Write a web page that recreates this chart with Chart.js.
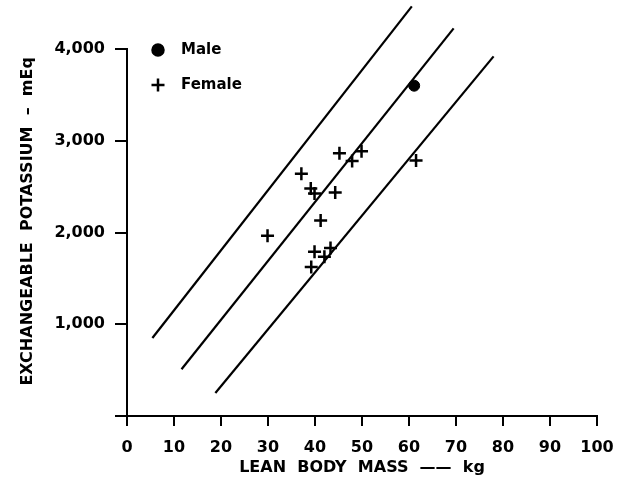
<!DOCTYPE html>
<html>
<head>
<meta charset="utf-8">
<script src="https://cdn.jsdelivr.net/npm/chart.js@4.4.1/dist/chart.umd.min.js"></script>
<style>
  html, body { margin: 0; padding: 0; background: #fff; }
  #wrap { width: 633px; height: 482px; }
</style>
</head>
<body>
<div id="wrap"><canvas id="chart" width="633" height="482"></canvas></div>
<script>
// Lean body mass (kg) vs exchangeable potassium (mEq)
const maleMass = [61.1];
const maleK = [3600];

const femaleMass = [45.2, 49.9, 47.9, 61.5, 37.1, 39.1, 39.9, 44.3, 41.2, 29.9, 39.9, 43.3, 42.0, 39.2];
const femaleK = [2865, 2885, 2780, 2785, 2640, 2480, 2425, 2435, 2130, 1965, 1790, 1830, 1735, 1625];

// three parallel reference lines, read at their drawn ends
const bandMassStart = [5.4, 11.6, 18.8];
const bandKStart = [850, 510, 250];
const bandMassEnd = [60.6, 69.5, 78.0];
const bandKEnd = [4465, 4225, 3920];

const xTicks = [0, 10, 20, 30, 40, 50, 60, 70, 80, 90, 100];
const yTicks = [0, 1000, 2000, 3000, 4000];

const FONT = '"DejaVu Sans", sans-serif';

function toPoints(xs, ys) {
  return xs.map((x, i) => ({ x: x, y: ys[i] }));
}

const bandSets = bandMassStart.map((m, i) => ({
  type: "line",
  data: [{ x: m, y: bandKStart[i] }, { x: bandMassEnd[i], y: bandKEnd[i] }],
  borderColor: "#000",
  borderWidth: 2.2,
  pointRadius: 0,
  fill: false,
  clip: false,
  legendSkip: true,
}));

// draws the little key in the top-left corner
const keyPlugin = {
  id: "key",
  afterDraw(chart) {
    const ctx = chart.ctx;
    const keys = chart.data.datasets.filter((d) => !d.legendSkip);
    ctx.save();
    ctx.fillStyle = "#000";
    ctx.strokeStyle = "#000";
    ctx.lineWidth = 2.5;
    ctx.font = "bold 15px " + FONT;
    ctx.textBaseline = "middle";
    keys.forEach((d, i) => {
      const y = 50 + i * 35;
      Chart.helpers.drawPoint(ctx, {
        pointStyle: d.pointStyle,
        radius: d.pointRadius,
        borderWidth: d.borderWidth,
      }, 158, y);
      if (d.pointStyle === "circle") ctx.fill();
      ctx.fillText(d.label, 181, y);
    });
    ctx.restore();
  },
};

new Chart(document.getElementById("chart"), {
  type: "scatter",
  data: {
    datasets: [
      {
        label: "Male",
        data: toPoints(maleMass, maleK),
        pointStyle: "circle",
        pointRadius: 5.5,
        backgroundColor: "#000",
        borderColor: "#000",
        borderWidth: 1,
      },
      {
        label: "Female",
        data: toPoints(femaleMass, femaleK),
        pointStyle: "cross",
        pointRadius: 6.5,
        borderColor: "#000",
        borderWidth: 2.5,
      },
      ...bandSets,
    ],
  },
  options: {
    responsive: false,
    animation: false,
    layout: { padding: { top: 49, right: 36, left: 0, bottom: 0 } },
    plugins: { legend: { display: false }, tooltip: { enabled: false } },
    scales: {
      x: {
        type: "linear",
        min: 0,
        max: 100,
        afterBuildTicks: (s) => { s.ticks = xTicks.map((v) => ({ value: v })); },
        afterFit: (s) => { s.height = 66; },
        border: { display: true, color: "#000", width: 2 },
        grid: { drawOnChartArea: false, drawTicks: true, tickLength: 10, color: "#000", lineWidth: 2 },
        ticks: { color: "#000", padding: 12, font: { family: FONT, size: 16, weight: "bold" } },
        title: {
          display: true,
          text: "LEAN  BODY  MASS  \u2014\u2014  kg",
          color: "#000",
          font: { family: FONT, size: 16, weight: "bold" },
          padding: { top: 0, bottom: 5 },
        },
      },
      y: {
        type: "linear",
        min: 0,
        max: 4000,
        afterBuildTicks: (s) => { s.ticks = yTicks.map((v) => ({ value: v })); },
        afterFit: (s) => { s.width = 127; },
        border: { display: true, color: "#000", width: 2 },
        grid: { drawOnChartArea: false, drawTicks: true, tickLength: 12, color: "#000", lineWidth: 2 },
        ticks: {
          color: "#000",
          padding: 10,
          font: { family: FONT, size: 16, weight: "bold" },
          callback: (v) => (v === 0 ? "" : v.toLocaleString("en-US")),
        },
        title: {
          display: true,
          text: "    EXCHANGEABLE  POTASSIUM  \u2013  mEq",
          color: "#000",
          font: { family: FONT, size: 16, weight: "bold" },
          padding: { top: 18, bottom: 0 },
        },
      },
    },
  },
  plugins: [keyPlugin],
});
</script>
</body>
</html>
